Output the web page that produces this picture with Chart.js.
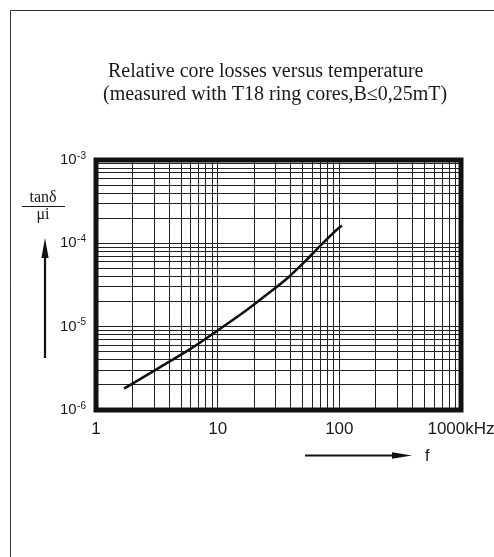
<!DOCTYPE html>
<html>
<head>
<meta charset="utf-8">
<script src="https://cdn.jsdelivr.net/npm/chart.js@4.4.1/dist/chart.umd.min.js"></script>
<style>
  html, body { margin: 0; padding: 0; background: #fff; }
  #area { width: 494px; height: 557px; }
</style>
</head>
<body>
<div id="area"><canvas id="grafico" width="494" height="557"></canvas></div>
<script>
const frequencias = [1.7, 3.4, 6.2, 10, 17, 26, 38, 53, 70, 100, 105];
const perdas = [1.8e-6, 3.3e-6, 5.6e-6, 9.0e-6, 1.55e-5, 2.5e-5, 3.9e-5, 6.2e-5, 9.4e-5, 1.55e-4, 1.63e-4];

// Linhas da grade
const ticksX = [1, 2, 3, 4, 5, 6, 7, 8, 9, 10, 20, 30, 40, 50, 60, 70, 80, 90, 100,
  200, 300, 400, 500, 600, 700, 800, 900, 1000];
const rotulosX = { 1: "1", 10: "10", 100: "100", 1000: "1000kHz" };
const ticksY = [1e-6, 2e-6, 3e-6, 4e-6, 5e-6, 6e-6, 7e-6, 8e-6, 9e-6,
  1e-5, 2e-5, 3e-5, 4e-5, 5e-5, 6e-5, 7e-5, 8e-5, 9e-5,
  1e-4, 2e-4, 3e-4, 4e-4, 5e-4, 6e-4, 7e-4, 8e-4, 9e-4, 1e-3];
const decadasY = [1e-6, 1e-5, 1e-4, 1e-3];
const expoentesY = ["-6", "-5", "-4", "-3"];

const titulo = ["Relative core losses versus temperature", "(measured with T18 ring cores,B\u22640,25mT)"];

const SANS = '"Liberation Sans", Arial, sans-serif';
const SERIF = '"Liberation Serif", "Times New Roman", serif';

// desenha uma seta simples (haste + ponta)
function seta(ctx, x1, y1, x2, y2, larg) {
  const ang = Math.atan2(y2 - y1, x2 - x1);
  const comp = 20;
  const bx = x2 - Math.cos(ang) * comp, by = y2 - Math.sin(ang) * comp;
  ctx.beginPath();
  ctx.lineWidth = 2.2;
  ctx.moveTo(x1, y1);
  ctx.lineTo(bx, by);
  ctx.stroke();
  ctx.beginPath();
  ctx.moveTo(x2, y2);
  ctx.lineTo(bx - Math.sin(ang) * larg, by + Math.cos(ang) * larg);
  ctx.lineTo(bx + Math.sin(ang) * larg, by - Math.cos(ang) * larg);
  ctx.closePath();
  ctx.fill();
}

// moldura grossa, titulo, rotulos do eixo y e setas
const moldura = {
  id: "moldura",
  afterDraw(chart) {
    const ctx = chart.ctx;
    const a = chart.chartArea;
    ctx.save();

    // borda da pagina
    ctx.strokeStyle = "#333";
    ctx.lineWidth = 1;
    ctx.beginPath();
    ctx.moveTo(10.5, 557);
    ctx.lineTo(10.5, 10.5);
    ctx.lineTo(494, 10.5);
    ctx.stroke();

    ctx.strokeStyle = "#111";
    ctx.lineWidth = 5;
    ctx.strokeRect(a.left, a.top, a.right - a.left, a.bottom - a.top);

    ctx.fillStyle = "#1a1a1a";
    ctx.font = "20px " + SERIF;
    ctx.textAlign = "left";
    ctx.textBaseline = "alphabetic";
    ctx.fillText(titulo[0], 108, 77);
    ctx.fillText(titulo[1], 103, 100);

    // 10^n com expoente
    const escalaY = chart.scales.y;
    ctx.textAlign = "right";
    ctx.textBaseline = "middle";
    decadasY.forEach((v, i) => {
      const y = escalaY.getPixelForValue(v);
      const xd = a.left - 10;
      ctx.font = "10px " + SANS;
      const w = ctx.measureText(expoentesY[i]).width;
      ctx.fillText(expoentesY[i], xd, y - 4);
      ctx.font = "15px " + SANS;
      ctx.fillText("10", xd - w - 0.5, y);
    });

    // tan delta / mi
    ctx.textAlign = "center";
    ctx.textBaseline = "alphabetic";
    ctx.font = "16px " + SERIF;
    ctx.fillText("tan\u03b4", 43, 202);
    ctx.fillText("\u03bci", 43, 219);
    ctx.lineWidth = 1;
    ctx.strokeStyle = "#1a1a1a";
    ctx.beginPath();
    ctx.moveTo(22, 206.5);
    ctx.lineTo(65, 206.5);
    ctx.stroke();

    ctx.fillStyle = "#111";
    ctx.strokeStyle = "#111";
    seta(ctx, 45, 358, 45, 238, 3.6);
    seta(ctx, 305, 455.5, 412, 455.5, 3.2);

    ctx.font = "16px " + SANS;
    ctx.textAlign = "left";
    ctx.fillText("f", 425, 461);

    ctx.restore();
  }
};

const ctx = document.getElementById("grafico").getContext("2d");
const grafico = new Chart(ctx, {
  type: "line",
  data: {
    datasets: [{
      data: frequencias.map((f, i) => ({ x: f, y: perdas[i] })),
      borderColor: "#111",
      borderWidth: 2.6,
      pointRadius: 0,
      fill: false,
      cubicInterpolationMode: "monotone"
    }]
  },
  options: {
    responsive: false,
    animation: false,
    layout: { padding: { top: 160, right: 33, bottom: 107, left: 0 } },
    plugins: {
      legend: { display: false },
      tooltip: { enabled: false },
      title: { display: false }
    },
    scales: {
      x: {
        type: "logarithmic",
        min: 1,
        max: 1000,
        afterBuildTicks: s => { s.ticks = ticksX.map(v => ({ value: v })); },
        // o rotulo 1000kHz pode sair da area, sem empurrar o grafico
        afterFit: s => { s.height = 40; s.paddingLeft = 0; s.paddingRight = 0; },
        border: { display: false },
        grid: { color: "#222", lineWidth: 1, drawTicks: false },
        ticks: {
          autoSkip: false,
          maxRotation: 0,
          padding: 9,
          color: "#1a1a1a",
          font: { family: SANS, size: 17 },
          callback: v => rotulosX[v] || ""
        }
      },
      y: {
        type: "logarithmic",
        min: 1e-6,
        max: 1e-3,
        afterBuildTicks: s => { s.ticks = ticksY.map(v => ({ value: v })); },
        afterFit: s => { s.width = 96; },
        border: { display: false },
        grid: { color: "#222", lineWidth: 1, drawTicks: false },
        ticks: { display: false }
      }
    }
  },
  plugins: [moldura]
});
</script>
</body>
</html>
